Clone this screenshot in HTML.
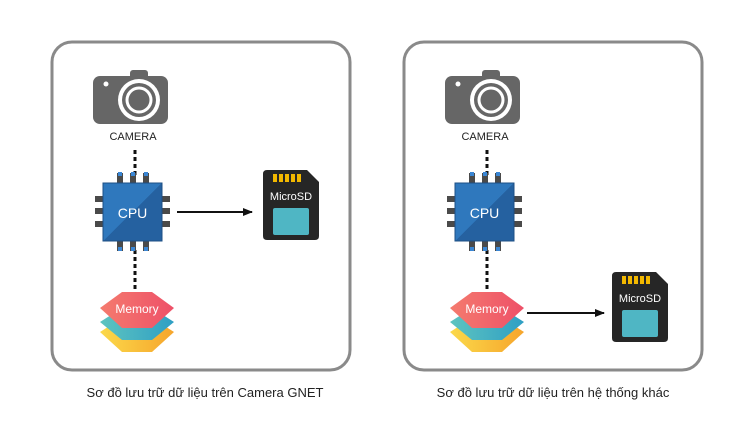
<!DOCTYPE html>
<html><head><meta charset="utf-8"><style>
html,body{margin:0;padding:0;background:#fff;}
svg{display:block}
</style></head><body>
<svg width="750" height="428" viewBox="0 0 750 428" xmlns="http://www.w3.org/2000/svg" font-family="Liberation Sans, DejaVu Sans, sans-serif">
<defs>
<linearGradient id="gcpu" x1="0" y1="0" x2="1" y2="1"><stop offset="0.5" stop-color="#2f78bd"/><stop offset="0.5" stop-color="#2561a0"/></linearGradient>
<linearGradient id="red" x1="0" y1="0" x2="1" y2="0"><stop offset="0" stop-color="#f47b6e"/><stop offset="1" stop-color="#ee5068"/></linearGradient>
<linearGradient id="teal" x1="0" y1="0" x2="1" y2="0"><stop offset="0" stop-color="#5ec4c0"/><stop offset="1" stop-color="#2f9fc4"/></linearGradient>
<linearGradient id="yel" x1="0" y1="0" x2="1" y2="0"><stop offset="0" stop-color="#fbd94a"/><stop offset="1" stop-color="#f6a52c"/></linearGradient>
<g id="camera">
<rect x="0" y="0" width="75" height="48" rx="7" fill="#666"/>
<rect x="37" y="-6" width="18" height="10" rx="3" fill="#666"/>
<circle cx="13" cy="8" r="2.5" fill="#fff"/>
<circle cx="46" cy="24" r="21" fill="#fff"/>
<circle cx="46" cy="24" r="17" fill="#666"/>
<circle cx="46" cy="24" r="13.5" fill="#fff"/>
<circle cx="46" cy="24" r="10.5" fill="#666"/>
</g>
<g id="chip">
<g fill="#4a4a4a">
<rect x="14" y="-10" width="6" height="10"/><rect x="27" y="-10" width="6" height="10"/><rect x="40" y="-10" width="6" height="10"/>
<rect x="14" y="58" width="6" height="10"/><rect x="27" y="58" width="6" height="10"/><rect x="40" y="58" width="6" height="10"/>
<rect x="-8" y="13" width="8" height="6"/><rect x="-8" y="25" width="8" height="6"/><rect x="-8" y="38" width="8" height="6"/>
<rect x="59" y="13" width="8" height="6"/><rect x="59" y="25" width="8" height="6"/><rect x="59" y="38" width="8" height="6"/>
</g>
<g fill="#3a86d4">
<rect x="15" y="-11" width="4" height="4"/><rect x="28" y="-11" width="4" height="4"/><rect x="41" y="-11" width="4" height="4"/>
<rect x="15" y="64" width="4" height="4"/><rect x="28" y="64" width="4" height="4"/><rect x="41" y="64" width="4" height="4"/>
</g>
<rect x="0" y="0" width="59" height="58" fill="url(#gcpu)" stroke="#1d4f85" stroke-width="1"/>
<text x="29.5" y="35" font-size="14" fill="#fff" text-anchor="middle">CPU</text>
</g>
<g id="mem">
<path d="M0 42 L22 28 L52 28 L74 42 L52 62 L22 62 Z" fill="url(#yel)"/>
<path d="M0 32 L22 18 L52 18 L74 32 L52 50 L22 50 Z" fill="url(#teal)"/>
<path d="M0 18 L22 2 L52 2 L74 18 L52 38 L22 38 Z" fill="url(#red)"/>
<text x="37" y="23" font-size="12" fill="#fff" text-anchor="middle">Memory</text>
</g>
<g id="sd">
<path d="M4 0 L44 0 L56 12 L56 66 Q56 70 52 70 L4 70 Q0 70 0 66 L0 4 Q0 0 4 0 Z" fill="#262626"/>
<g fill="#f2b800"><rect x="10" y="4" width="4" height="8"/><rect x="16" y="4" width="4" height="8"/><rect x="22" y="4" width="4" height="8"/><rect x="28" y="4" width="4" height="8"/><rect x="34" y="4" width="4" height="8"/></g>
<text x="28" y="30" font-size="11" fill="#fff" text-anchor="middle">MicroSD</text>
<rect x="10" y="38" width="36" height="27" rx="2" fill="#4fb6c4"/>
</g>
<marker id="ah" markerWidth="10" markerHeight="8" refX="9" refY="4" orient="auto" markerUnits="userSpaceOnUse"><path d="M0 0 L10 4 L0 8 Z" fill="#111"/></marker>
</defs>

<rect x="52" y="42" width="298" height="328" rx="20" fill="none" stroke="#8a8a8a" stroke-width="3"/>
<rect x="404" y="42" width="298" height="328" rx="20" fill="none" stroke="#8a8a8a" stroke-width="3"/>

<use href="#camera" x="93" y="76"/>
<text x="133" y="140" font-size="11" fill="#222" text-anchor="middle">CAMERA</text>
<line x1="135" y1="150" x2="135" y2="175" stroke="#111" stroke-width="3" stroke-dasharray="4,3"/>
<line x1="135" y1="250" x2="135" y2="290" stroke="#111" stroke-width="3" stroke-dasharray="4,3"/>
<use href="#chip" x="103" y="183"/>
<line x1="177" y1="212" x2="252" y2="212" stroke="#111" stroke-width="2" marker-end="url(#ah)"/>
<use href="#sd" x="263" y="170"/>
<use href="#mem" x="100" y="290"/>
<text x="205" y="397" font-size="13" fill="#222" text-anchor="middle">Sơ đồ lưu trữ dữ liệu trên Camera GNET</text>

<use href="#camera" x="445" y="76"/>
<text x="485" y="140" font-size="11" fill="#222" text-anchor="middle">CAMERA</text>
<line x1="487" y1="150" x2="487" y2="175" stroke="#111" stroke-width="3" stroke-dasharray="4,3"/>
<line x1="487" y1="250" x2="487" y2="290" stroke="#111" stroke-width="3" stroke-dasharray="4,3"/>
<use href="#chip" x="455" y="183"/>
<use href="#mem" x="450" y="290"/>
<line x1="527" y1="313" x2="604" y2="313" stroke="#111" stroke-width="2" marker-end="url(#ah)"/>
<use href="#sd" x="612" y="272"/>
<text x="553" y="397" font-size="13" fill="#222" text-anchor="middle">Sơ đồ lưu trữ dữ liệu trên hệ thống khác</text>
</svg>
</body></html>
